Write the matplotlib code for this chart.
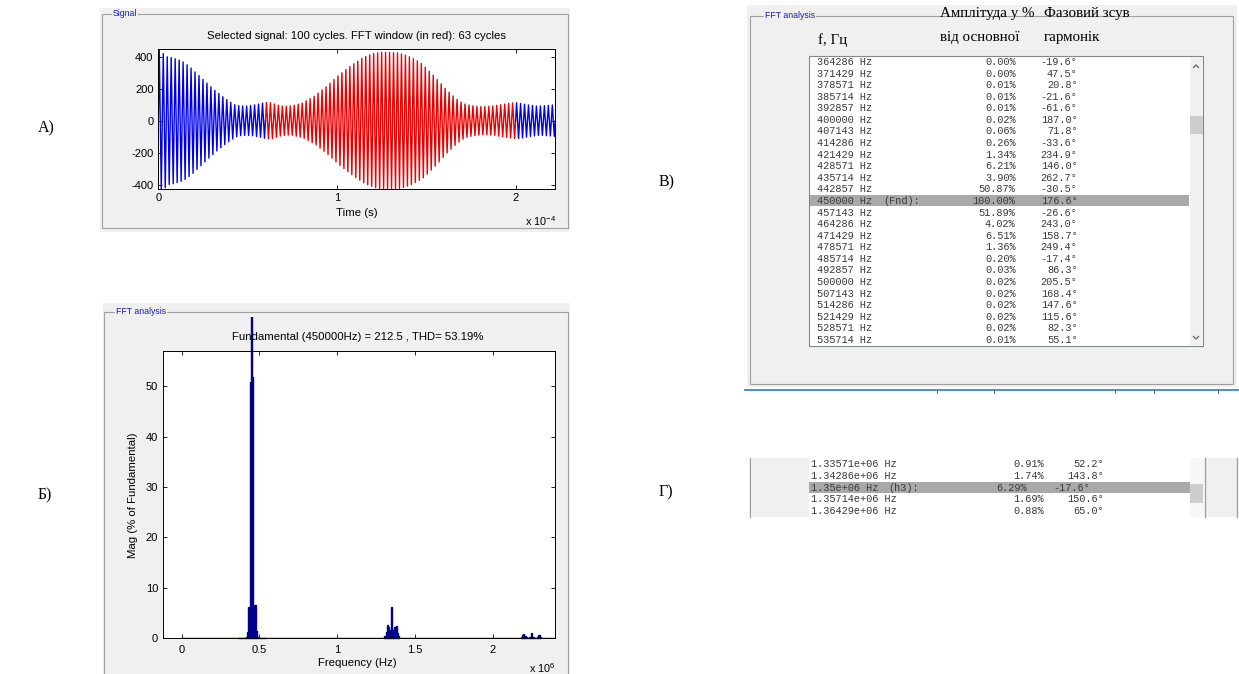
import numpy as np
import matplotlib.pyplot as plt
from matplotlib.patches import Rectangle

plt.rcParams['font.family'] = ['Liberation Sans', 'DejaVu Sans']
plt.rcParams['mathtext.fontset'] = 'custom'
plt.rcParams['mathtext.rm'] = 'Liberation Sans'
plt.rcParams['mathtext.default'] = 'regular'
plt.rcParams['axes.unicode_minus'] = False

# ---------------- data ----------------
# signal (panel A): peak value of each of the 100 cycles
f0 = 450000
n_cycles = 100
fft_first_cycle = 27
fft_cycles = 63
cycle_amp = np.array([
    440, 420, 400, 395, 388, 380, 368, 350, 330, 305,
    282, 258, 235, 212, 190, 170, 150, 132, 115, 100,
    94, 92, 92, 95, 99, 104, 110, 114, 112, 104,
    96, 92, 90, 92, 97, 103, 110, 124, 138, 152,
    172, 192, 212, 235, 258, 280, 300, 320, 338, 356,
    372, 390, 402, 412, 420, 425, 428, 428, 427, 426,
    424, 418, 410, 400, 388, 374, 358, 335, 310, 285,
    258, 230, 202, 178, 155, 133, 116, 104, 98, 93,
    90, 88, 88, 90, 92, 96, 100, 104, 108, 111,
    112, 108, 103, 98, 95, 92, 92, 94, 96, 98])

# FFT list (panel V)
tab_freq = [364286, 371429, 378571, 385714, 392857, 400000, 407143, 414286,
            421429, 428571, 435714, 442857, 450000, 457143, 464286, 471429,
            478571, 485714, 492857, 500000, 507143, 514286, 521429, 528571,
            535714]
tab_amp = [0.00, 0.00, 0.01, 0.01, 0.01, 0.02, 0.06, 0.26, 1.34, 6.21, 3.90,
           50.87, 100.00, 51.89, 4.02, 6.51, 1.36, 0.20, 0.03, 0.02, 0.02,
           0.02, 0.02, 0.02, 0.01]
tab_phase = [-19.6, 47.5, 20.8, -21.6, -61.6, 187.0, 71.8, -33.6, 234.9,
             146.0, 262.7, -30.5, 176.6, -26.6, 243.0, 158.7, 249.4, -17.4,
             86.3, 205.5, 168.4, 147.6, 115.6, 82.3, 55.1]
fnd_row = 12

# FFT list around 3rd harmonic (panel G)
h3_freq = [1.33571e6, 1.34286e6, 1.35e6, 1.35714e6, 1.36429e6]
h3_amp = [0.91, 1.74, 6.29, 1.69, 0.88]
h3_phase = [52.2, 143.8, -17.6, 150.6, 65.0]
h3_row = 2

# further bars estimated from the spectrum plot (panel B)
h3_side_freq = [1.30714e6, 1.31429e6, 1.32143e6, 1.32857e6,
                1.37143e6, 1.37857e6, 1.38571e6, 1.39286e6]
h3_side_mag = [0.4, 1.2, 2.6, 2.3, 2.2, 2.4, 1.0, 0.4]
h5_freq = [2.18571e6, 2.19286e6, 2.2e6, 2.20714e6, 2.21429e6, 2.22143e6,
           2.22857e6, 2.23571e6, 2.24286e6, 2.25e6, 2.25714e6, 2.26429e6,
           2.27143e6, 2.27857e6, 2.28571e6, 2.29286e6, 2.3e6, 2.30714e6]
h5_mag = [0.3, 0.7, 0.8, 0.5, 0.2, 0.1, 0.15, 0.2, 0.3, 1.1, 0.3, 0.2,
          0.15, 0.1, 0.3, 0.6, 0.7, 0.3]

bin_width = 1e6 / 140
fund_value = 212.5
thd = 53.19

# ---------------- figure ----------------
W, H = 1239, 674
fig = plt.figure(figsize=(W / 100, H / 100), dpi=100)
bg = fig.add_axes([0, 0, 1, 1], zorder=0)
bg.set_xlim(0, W)
bg.set_ylim(H, 0)
bg.axis('off')

GUI = '#f0f0f0'
FRAME = '#a0a0a0'
BLUE_LBL = '#1c1cc0'
MONO = ['Liberation Mono', 'DejaVu Sans Mono']
SERIF = ['Liberation Serif', 'DejaVu Serif']


def rect(x0, y0, x1, y1, fc, ec='none', lw=0.8, z=1):
    bg.add_patch(Rectangle((x0, y0), x1 - x0, y1 - y0, facecolor=fc,
                           edgecolor=ec, linewidth=lw, zorder=z))


def group_label(x, y, s):
    bg.text(x, y, s, fontsize=6.3, color=BLUE_LBL, va='center', ha='left',
            zorder=3, bbox=dict(facecolor=GUI, edgecolor='none', pad=0.6))


def px_axes(x0, y0, x1, y1):
    return fig.add_axes([x0 / W, 1 - y1 / H, (x1 - x0) / W, (y1 - y0) / H],
                        zorder=2)


# panel labels
for s, x, y in [('А)', 38, 128), ('Б)', 38, 495), ('В)', 659, 182), ('Г)', 659, 492)]:
    bg.text(x, y, s, fontsize=11.5, family=SERIF, va='center', ha='left')

# ---- panel A: signal ----
rect(100, 8, 570, 232, GUI)
rect(102, 14, 568, 228, 'none', FRAME, z=2)
group_label(113, 14, 'Signal')

axA = px_axes(158.3, 49.3, 555.3, 189.3)
T = 1 / f0
shape_t = np.array([0, 0.25, 0.5, 0.75])
shape_v = np.array([0, 1, 0, -1])
t = np.append((np.arange(n_cycles)[:, None] + shape_t).ravel() * T, n_cycles * T)
v = np.append((cycle_amp[:, None] * shape_v).ravel(), 0)
i1 = fft_first_cycle * 4
i2 = (fft_first_cycle + fft_cycles) * 4
axA.plot(t[:i1 + 1], v[:i1 + 1], color='#0000e6', lw=1.0)
axA.plot(t[i1:i2 + 1], v[i1:i2 + 1], color='#e60000', lw=1.0)
axA.plot(t[i2:], v[i2:], color='#0000e6', lw=1.0)
axA.set_xlim(0, n_cycles * T)
axA.set_ylim(-430, 447)
axA.set_xticks([0, 1e-4, 2e-4], ['0', '1', '2'])
axA.set_yticks([-400, -200, 0, 200, 400])
axA.tick_params(direction='in', top=True, right=True, length=3, width=0.6,
                labelsize=8)
axA.tick_params(axis='y', pad=3.5)
axA.tick_params(axis='x', pad=3)
for sp in axA.spines.values():
    sp.set_linewidth(0.7)
bg.text(356.8, 36, f'Selected signal: {n_cycles} cycles. FFT window (in red): '
        f'{fft_cycles} cycles', fontsize=8.2, ha='center', va='center')
bg.text(356.8, 213, 'Time (s)', fontsize=8.2, ha='center', va='center')
bg.text(556, 221, 'x 10$^{-4}$', fontsize=7.8, ha='right', va='center')

# ---- panel B: FFT bar chart ----
rect(103, 303, 570, 674, GUI)
bg.plot([104, 104, 568, 568], [674, 312, 312, 674], color=FRAME, lw=0.8, zorder=2)
group_label(116, 311, 'FFT analysis')

axB = px_axes(163.3, 351, 555.3, 638.3)
spec_f = tab_freq + h3_freq + h3_side_freq + h5_freq
spec_m = tab_amp + h3_amp + h3_side_mag + h5_mag
clip = Rectangle((103, 317), 467, 357, transform=bg.transData)
bars = axB.bar(spec_f, spec_m, width=bin_width, color='#00008b',
               edgecolor='#00008b', linewidth=1.0)
for b in bars:
    b.set_clip_path(clip)
axB.hlines(0, 0, 2.402e6, color='#00008b', lw=1.0)
axB.set_xlim(-0.118e6, 2.402e6)
axB.set_ylim(0, 57)
axB.set_xticks([0, 0.5e6, 1e6, 1.5e6, 2e6], ['0', '0.5', '1', '1.5', '2'])
axB.set_yticks([0, 10, 20, 30, 40, 50])
axB.tick_params(direction='in', top=True, right=True, length=3, width=0.6,
                labelsize=8)
axB.tick_params(axis='y', pad=3.8)
axB.tick_params(axis='x', pad=4.5)
for sp in axB.spines.values():
    sp.set_linewidth(0.7)
bg.text(357.7, 337.3, f'Fundamental ({f0}Hz) = {fund_value} , THD= {thd}%',
        fontsize=8.2, ha='center', va='center')
bg.text(357.7, 663.3, 'Frequency (Hz)', fontsize=8.2, ha='center', va='center')
bg.text(133.3, 495, 'Mag (% of Fundamental)', fontsize=8.2, ha='center',
        va='center', rotation=90)
bg.text(556, 668, 'x 10$^{6}$', fontsize=7.8, ha='right', va='center')

# ---- panel V: FFT list ----
rect(747, 5, 1237, 387, GUI)
rect(750, 16, 1233, 384, 'none', FRAME, z=2)
group_label(765, 16, 'FFT analysis')
bg.plot([745, 1239], [389.5, 389.5], color='#4a90d9', lw=1.4)
for x in [937, 994, 1115, 1154, 1218]:
    bg.plot([x, x], [390, 393], color='#555555', lw=0.6)

for s, x, y in [('f, Гц', 818, 40), ('Амплітуда у %', 940, 14),
                ('від основної', 940, 37), ('Фазовий зсув', 1044, 14),
                ('гармонік', 1044, 37)]:
    bg.text(x, y, s, fontsize=10.8, family=SERIF, ha='left', va='center',
            zorder=4)

rect(809, 56, 1203, 346, 'white', '#828790', z=2)
rect(1189.5, 56.6, 1202.5, 345.4, '#f0f0f0', z=3)
rect(1189.5, 116, 1202.5, 134, '#cdcdcd', z=3)
bg.plot([1193.5, 1196, 1198.5], [67.5, 65, 67.5], color='#606060', lw=0.9, zorder=4)
bg.plot([1193.5, 1196, 1198.5], [336.5, 339, 336.5], color='#606060', lw=0.9, zorder=4)

row0, row_h = 62, 11.58
rect(809.5, row0 + fnd_row * row_h - 5.5, 1188.5, row0 + fnd_row * row_h + 5.5,
     '#a9a9a9', z=3)
txt = dict(fontsize=7.4, family=MONO, color='#3a3a3a', va='center', zorder=5)
for i, (f, a, p) in enumerate(zip(tab_freq, tab_amp, tab_phase)):
    y = row0 + i * row_h
    bg.text(817, y, f'{f:g} Hz', ha='left', **txt)
    if i == fnd_row:
        bg.text(883, y, '(Fnd):', ha='left', **txt)
    bg.text(1015.5, y, f'{a:.2f}%', ha='right', **txt)
    bg.text(1077.5, y, f'{p:.1f}°', ha='right', **txt)

# ---- panel G: list near 3rd harmonic ----
rect(749, 458, 809, 517, GUI)
bg.plot([749.5, 749.5], [458, 517], color=FRAME, lw=0.8)
rect(809, 458, 1189.5, 517, 'white')
rect(1189.5, 458, 1204, 517, '#f7f7f7')
rect(1190, 484, 1203, 503, '#cdcdcd', z=3)
bg.plot([1204.5, 1204.5], [458, 517], color=FRAME, lw=1.0)
rect(1205, 458, 1237, 517, GUI)
bg.plot([1237, 1237], [458, 517], color=FRAME, lw=1.0)

g0, g_h = 464, 11.8
rect(809, g0 + h3_row * g_h - 5.6, 1189.5, g0 + h3_row * g_h + 5.6, '#a9a9a9', z=3)
for i, (f, a, p) in enumerate(zip(h3_freq, h3_amp, h3_phase)):
    y = g0 + i * g_h
    bg.text(811, y, f'{f:g} Hz', ha='left', **txt)
    if i == h3_row:
        bg.text(888, y, '(h3):', ha='left', **txt)
        bg.text(1027, y, f'{a:.2f}%', ha='right', **txt)
        bg.text(1090.5, y, f'{p:.1f}°', ha='right', **txt)
    else:
        bg.text(1043.5, y, f'{a:.2f}%', ha='right', **txt)
        bg.text(1103.5, y, f'{p:.1f}°', ha='right', **txt)

fig.savefig('out.png', dpi=100)
